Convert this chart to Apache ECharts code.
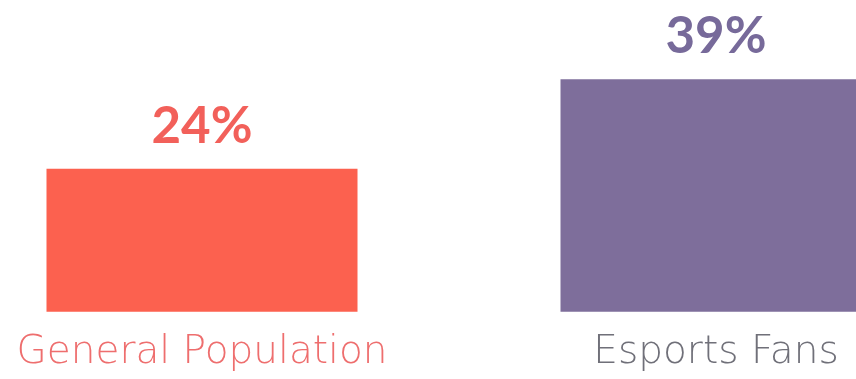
<!DOCTYPE html>
<html>
<head>
<meta charset="utf-8">
<script src="https://cdn.jsdelivr.net/npm/echarts@6/dist/echarts.min.js"></script>
<style>
  html, body { margin: 0; padding: 0; background: #ffffff; }
  #chart { width: 856px; height: 379px; }
</style>
</head>
<body>
<div id="chart"></div>
<script>
// Share of each group, in percent
const categories = ['General Population', 'Esports Fans'];
const values = [24, 39];
const barColors = ['#FC614F', '#7E6E9B'];
const valueLabelColors = ['#F2605A', '#776A9A'];
const categoryLabelColors = ['#EE6E6E', '#707079'];

const chart = echarts.init(document.getElementById('chart'), null, { renderer: 'canvas' });

chart.setOption({
  backgroundColor: '#ffffff',
  animation: false,
  grid: {
    left: -55, top: 13.7, width: 1028, bottom: 67.3,
    containLabel: false,
    outerBoundsMode: 'none'
  },
  xAxis: {
    type: 'category',
    data: categories,
    axisLine: { show: false },
    axisTick: { show: false },
    axisLabel: {
      margin: 22,
      fontFamily: 'DejaVu Sans',
      fontWeight: 200,
      fontSize: 39,
      color: function (value, index) { return categoryLabelColors[index]; }
    }
  },
  yAxis: {
    type: 'value',
    min: 0,
    max: 50,
    show: false,
    splitLine: { show: false }
  },
  series: [{
    type: 'bar',
    barWidth: 311,
    data: values.map(function (v, i) {
      return {
        value: v,
        itemStyle: { color: barColors[i] },
        label: { color: valueLabelColors[i] }
      };
    }),
    label: {
      show: true,
      position: 'top',
      distance: 17,
      fontFamily: 'Lato',
      fontWeight: 'bold',
      fontSize: 51,
      formatter: '{c}%'
    }
  }]
});
</script>
</body>
</html>
